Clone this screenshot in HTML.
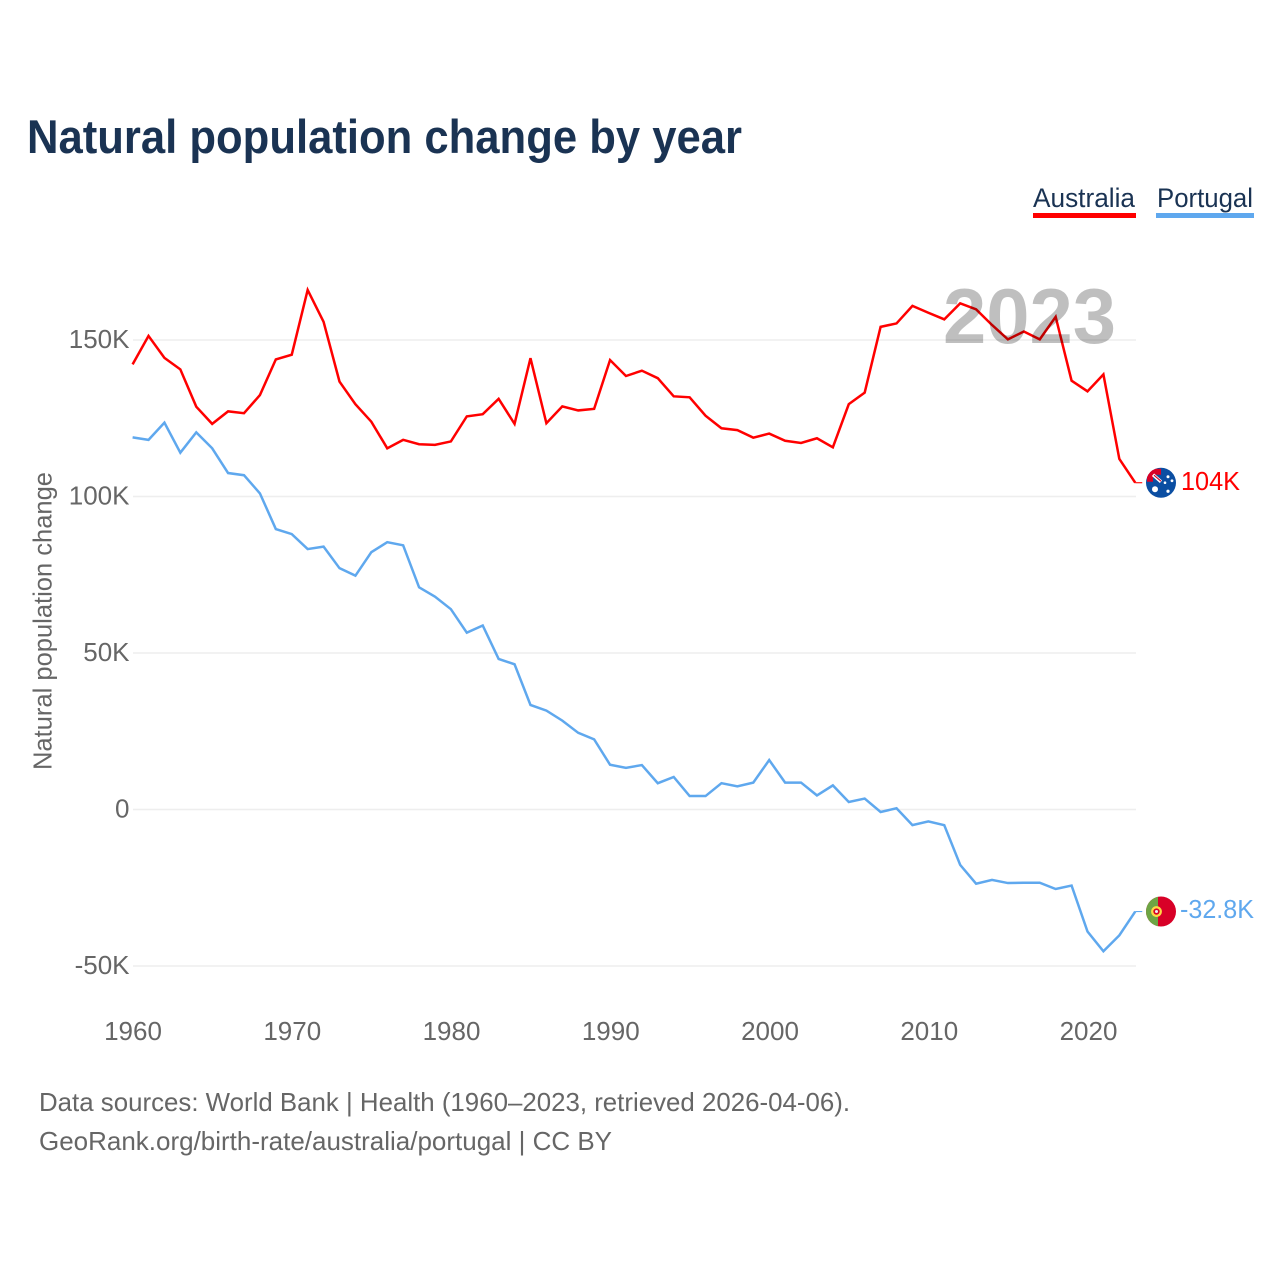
<!DOCTYPE html>
<html lang="en">
<head>
<meta charset="utf-8">
<title>Natural population change by year</title>
<style>
html,body{margin:0;padding:0;background:#fff;}
svg{display:block;}
text{font-family:"Liberation Sans",sans-serif;}
</style>
</head>
<body>
<svg id="chart" xmlns="http://www.w3.org/2000/svg" width="1280" height="1280" viewBox="0 0 1280 1280">
  <rect x="0" y="0" width="1280" height="1280" fill="#ffffff"/>
  <text x="27" y="153" font-size="47" font-weight="700" fill="#1a3353" textLength="715" lengthAdjust="spacingAndGlyphs">Natural population change by year</text>
  <g>
    <text x="1033" y="207" font-size="27" fill="#1a3353" textLength="102" lengthAdjust="spacingAndGlyphs">Australia</text>
    <rect x="1033" y="213" width="103" height="5" fill="#ff0000"/>
  </g>
  <g>
    <text x="1157" y="207" font-size="27" fill="#1a3353" textLength="96" lengthAdjust="spacingAndGlyphs">Portugal</text>
    <rect x="1156" y="213" width="98" height="5" fill="#5fa8ee"/>
  </g>
  <text transform="translate(51.5,621) rotate(-90)" text-anchor="middle" font-size="26" fill="#666666" textLength="298" lengthAdjust="spacingAndGlyphs">Natural population change</text>
  <g id="grid"></g>
  <g id="yticks"></g>
  <g id="xticks"></g>
  <g id="series"></g>
  <text x="943" y="343" font-size="78" font-weight="700" fill="#000000" fill-opacity="0.25" textLength="173" lengthAdjust="spacingAndGlyphs">2023</text>
  <defs>
    <clipPath id="flag-clip"><circle cx="0" cy="0" r="15"/></clipPath>
  </defs>
  <g id="flag-au">
    <g clip-path="url(#flag-clip)">
      <rect x="-16" y="-16" width="32" height="32" fill="#0b4ea2"/>
      <path d="M-16-14H0V-8H-16Z" fill="#d80027"/>
      <path d="M-14-14H-8V-1H-14Z" fill="#d80027"/>
      <path d="M-8-8L0-1" stroke="#ffffff" stroke-width="3.4"/>
      <path d="M-7-7.5L0-1.5" stroke="#d80027" stroke-width="1.1"/>
      <circle cx="-6" cy="6.5" r="3" fill="#ffffff"/>
      <circle cx="7" cy="-6" r="1.5" fill="#ffffff"/>
      <circle cx="11" cy="-2" r="1.4" fill="#ffffff"/>
      <circle cx="4" cy="0" r="1.3" fill="#ffffff"/>
      <circle cx="7" cy="8.5" r="1.6" fill="#ffffff"/>
    </g>
  </g>
  <g id="flag-pt">
    <g clip-path="url(#flag-clip)">
      <rect x="-16" y="-16" width="32" height="32" fill="#d80027"/>
      <rect x="-16" y="-16" width="13" height="32" fill="#6da544"/>
      <circle cx="-4.5" cy="0" r="5.4" fill="#ffda44"/>
      <circle cx="-4.5" cy="0" r="3.2" fill="#d80027"/>
      <circle cx="-4.5" cy="0" r="1.5" fill="#f0f0f0"/>
    </g>
  </g>
  <text id="label-au" x="1181" font-size="26" fill="#ff0000" textLength="59" lengthAdjust="spacingAndGlyphs"></text>
  <text id="label-pt" x="1180" font-size="26" fill="#5fa8ee" textLength="74" lengthAdjust="spacingAndGlyphs"></text>
  <text x="39" y="1111" font-size="26" fill="#666666" textLength="811" lengthAdjust="spacingAndGlyphs">Data sources: World Bank | Health (1960–2023, retrieved 2026-04-06).</text>
  <text x="39" y="1150" font-size="26" fill="#666666" textLength="573" lengthAdjust="spacingAndGlyphs">GeoRank.org/birth-rate/australia/portugal | CC BY</text>
</svg>
<script>
var startYear = 1960;
var australia = [142.2,151.3,144.3,140.6,128.7,123.2,127.2,126.6,132.4,143.8,145.3,166.0,155.8,136.7,129.5,123.9,115.4,118.1,116.7,116.5,117.6,125.6,126.3,131.2,123.2,144.2,123.4,128.8,127.5,128.0,143.6,138.5,140.2,137.8,132.0,131.7,125.8,121.8,121.2,118.8,120.1,117.8,117.1,118.6,115.7,129.5,133.2,154.2,155.3,160.9,158.7,156.6,161.7,159.8,154.8,150.2,152.7,150.2,157.4,137.0,133.6,139.0,112.0,104.4];
var portugal = [118.9,118.1,123.6,114.0,120.5,115.4,107.5,106.8,101.0,89.6,88.0,83.2,84.0,77.1,74.7,82.2,85.4,84.4,71.0,68.0,64.0,56.5,58.8,48.1,46.4,33.4,31.6,28.4,24.5,22.4,14.3,13.3,14.2,8.4,10.4,4.3,4.3,8.4,7.4,8.6,15.8,8.6,8.6,4.5,7.7,2.4,3.5,-0.8,0.4,-5.0,-3.8,-5.0,-17.7,-23.7,-22.5,-23.5,-23.4,-23.4,-25.4,-24.3,-39.0,-45.3,-40.2,-32.6];
var yTickValues = [-50,0,50,100,150];
var yTickLabels = ['-50K','0','50K','100K','150K'];
var xTickValues = [1960,1970,1980,1990,2000,2010,2020];
var endLabelAustralia = '104K';
var endLabelPortugal = '-32.8K';

var NS = 'http://www.w3.org/2000/svg';
function xScale(year){ return 132.6 + (year - 1960) * 15.915; }
function yScale(v){ return 809.5 - v * 3.13; }
function tickX(year){ return 133 + (year - 1960) * 15.925; }
function make(tag, parentId){
  var el = document.createElementNS(NS, tag);
  document.getElementById(parentId).appendChild(el);
  return el;
}
yTickValues.forEach(function(v, i){
  var line = make('line', 'grid');
  
  
  line.setAttribute('x1', 133);
  line.setAttribute('x2', 1136);
  line.setAttribute('y1', yScale(v));
  line.setAttribute('y2', yScale(v));
  line.setAttribute('stroke', '#eeeeee');
  line.setAttribute('stroke-width', 1.4);
  var t = make('text', 'yticks');
  
  
  t.setAttribute('x', 129.5);
  t.setAttribute('y', yScale(v) + 8);
  t.setAttribute('text-anchor', 'end');
  t.setAttribute('font-size', 26);
  t.setAttribute('fill', '#666666');
  t.textContent = yTickLabels[i];
});
xTickValues.forEach(function(year){
  var t = make('text', 'xticks');
  
  
  t.setAttribute('x', tickX(year));
  t.setAttribute('y', 1040);
  t.setAttribute('text-anchor', 'middle');
  t.setAttribute('font-size', 26);
  t.setAttribute('fill', '#666666');
  t.textContent = String(year);
});
function pointsFor(values){
  return values.map(function(v, i){
    return xScale(startYear + i).toFixed(2) + ',' + yScale(v).toFixed(2);
  }).join(' ');
}
var auLine = make('polyline', 'series');


auLine.setAttribute('points', pointsFor(australia));
auLine.setAttribute('fill', 'none');
auLine.setAttribute('stroke', '#ff0000');
auLine.setAttribute('stroke-width', 2.5);
var ptLine = make('polyline', 'series');


ptLine.setAttribute('points', pointsFor(portugal));
ptLine.setAttribute('fill', 'none');
ptLine.setAttribute('stroke', '#5fa8ee');
ptLine.setAttribute('stroke-width', 2.5);

var lastX = xScale(startYear + australia.length - 1);
var auY = yScale(australia[australia.length - 1]);
var ptY = yScale(portugal[portugal.length - 1]);

var auTail = make('line', 'series');


auTail.setAttribute('x1', lastX);
auTail.setAttribute('x2', lastX + 7);
auTail.setAttribute('y1', auY);
auTail.setAttribute('y2', auY);
auTail.setAttribute('stroke', '#ff0000');
auTail.setAttribute('stroke-width', 1.1);
var ptTail = make('line', 'series');


ptTail.setAttribute('x1', lastX);
ptTail.setAttribute('x2', lastX + 7);
ptTail.setAttribute('y1', ptY);
ptTail.setAttribute('y2', ptY);
ptTail.setAttribute('stroke', '#5fa8ee');
ptTail.setAttribute('stroke-width', 1.1);

document.getElementById('flag-au').setAttribute('transform', 'translate(1161,' + auY + ')');
document.getElementById('flag-pt').setAttribute('transform', 'translate(1161,' + ptY + ')');
var labelAu = document.getElementById('label-au');
labelAu.setAttribute('y', auY + 7.5);
labelAu.textContent = endLabelAustralia;
var labelPt = document.getElementById('label-pt');
labelPt.setAttribute('y', ptY + 6.5);
labelPt.textContent = endLabelPortugal;
</script>
</body>
</html>
